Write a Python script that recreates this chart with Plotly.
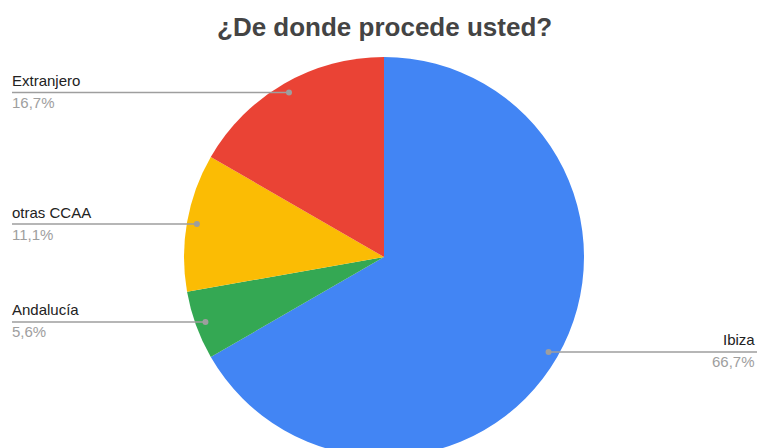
import numpy as np
import plotly.graph_objects as go

categories = ["Ibiza", "Andalucía", "otras CCAA", "Extranjero"]
counts = [12, 1, 2, 3]
colors = ["#4285F4", "#34A853", "#FBBC04", "#EA4335"]
title_text = "¿De donde procede usted?"

W, H = 759, 466          # figure slightly taller than the window: pie is cropped at the bottom
cx, cy, R = 384, 257, 200  # pie centre / radius in pixels (from top-left)

fig = go.Figure()
fig.add_trace(go.Pie(
    labels=categories, values=counts, sort=False, direction="clockwise", rotation=0,
    marker=dict(colors=colors, line=dict(width=0)),
    textinfo="none", hoverinfo="label+percent", showlegend=False,
    domain=dict(x=[(cx - R) / W, (cx + R) / W], y=[(H - cy - R) / H, (H - cy + R) / H]),
))

def px(x):
    return x / W

def py(y):
    return (H - y) / H

total = float(sum(counts))
start = 0.0
shapes, annotations = [], []
for name, v in zip(categories, counts):
    frac = v / total
    mid = (start + frac / 2) * 2 * np.pi
    start += frac
    dx = cx + 0.95 * R * np.sin(mid)
    dy = cy - 0.95 * R * np.cos(mid)
    pct = f"{frac * 100:.1f}".replace(".", ",") + "%"
    right = dx > cx
    xend = 757 if right else 12
    shapes.append(dict(type="line", xref="paper", yref="paper",
                       x0=px(dx), y0=py(dy), x1=px(xend), y1=py(dy),
                       line=dict(color="#9e9e9e", width=1.5)))
    shapes.append(dict(type="circle", xref="paper", yref="paper",
                       x0=px(dx - 3), y0=py(dy - 3), x1=px(dx + 3), y1=py(dy + 3),
                       fillcolor="#9e9e9e", line=dict(width=0)))
    anchor = "right" if right else "left"
    tx = px(757) if right else px(10)
    annotations.append(dict(xref="paper", yref="paper", x=tx, y=py(dy - 12), text=name,
                            xanchor=anchor, yanchor="middle", showarrow=False,
                            font=dict(size=15, color="#222222", family="Liberation Sans, Arial")))
    annotations.append(dict(xref="paper", yref="paper", x=tx, y=py(dy + 10), text=pct,
                            xanchor=anchor, yanchor="middle", showarrow=False,
                            font=dict(size=15, color="#9e9e9e", family="Liberation Sans, Arial")))

annotations.append(dict(xref="paper", yref="paper", x=px(384), y=py(27), text=f"<b>{title_text}</b>",
                        xanchor="center", yanchor="middle", showarrow=False,
                        font=dict(size=26, color="#444444", family="Liberation Sans, Arial")))

fig.update_layout(width=W, height=H, margin=dict(l=0, r=0, t=0, b=0),
                  paper_bgcolor="white", plot_bgcolor="white",
                  shapes=shapes, annotations=annotations)

fig.write_html("out.html", config={"displayModeBar": False},
               post_script="document.body.style.margin='0';document.body.style.overflow='hidden';"
                           "document.documentElement.style.overflow='hidden';")
